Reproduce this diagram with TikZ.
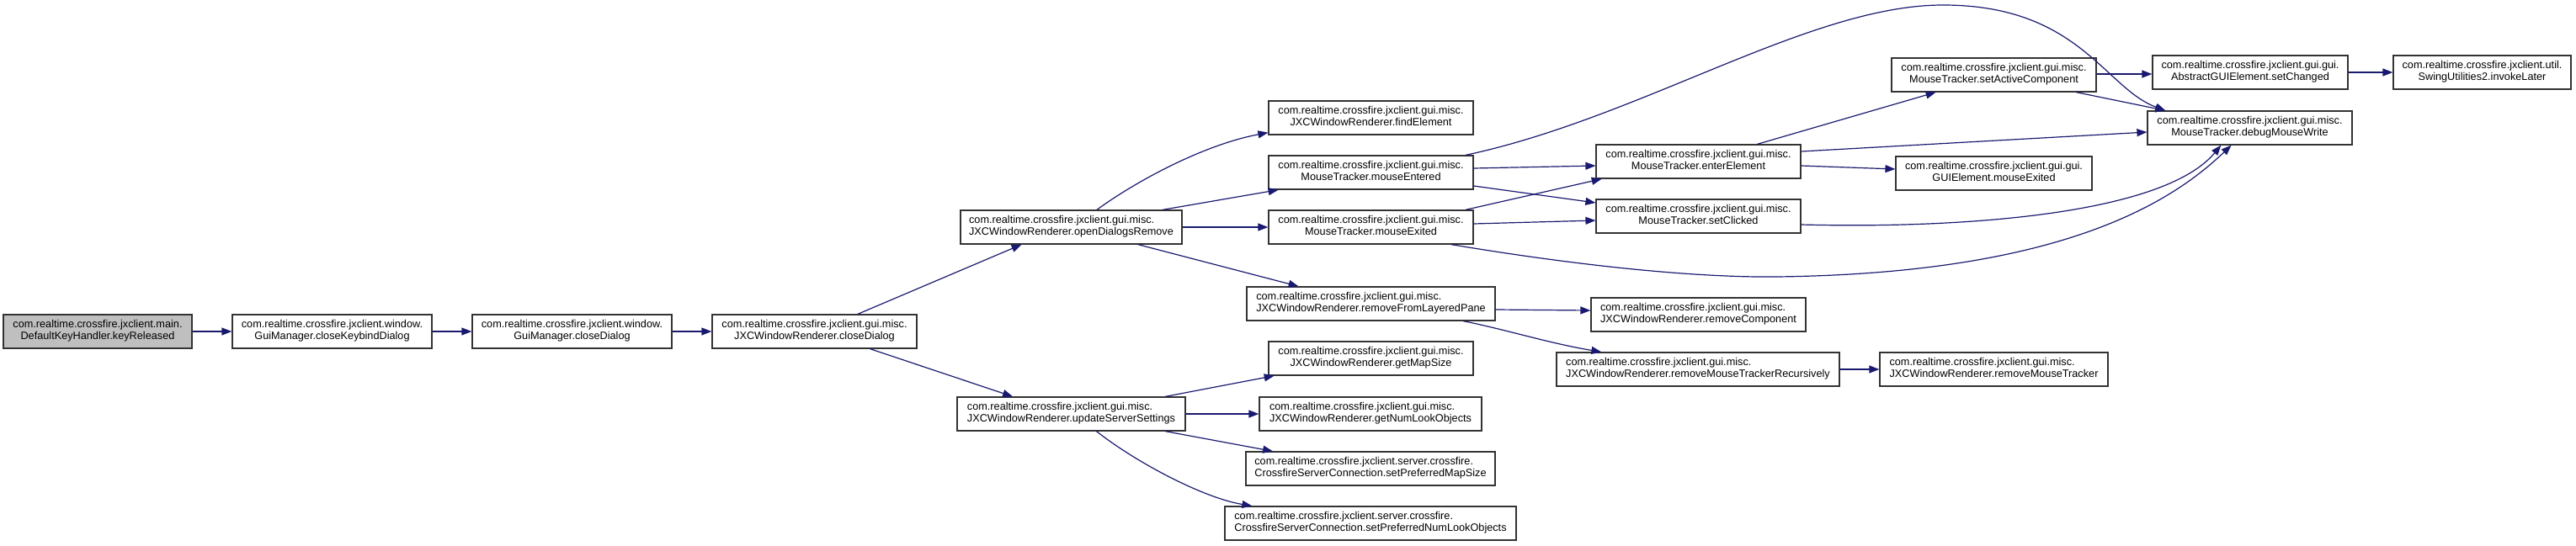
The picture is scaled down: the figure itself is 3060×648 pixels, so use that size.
\documentclass[tikz,border=0pt]{standalone}
\usepackage{fontspec}
\setmainfont{Liberation Sans}
\usetikzlibrary{arrows.meta,calc}
\definecolor{edgec}{HTML}{191970}
\definecolor{boxc}{HTML}{333333}
\definecolor{rootfill}{HTML}{BFBFBF}
\newcommand{\twol}[2]{\begin{tabular}{@{}l@{}}#1\\\multicolumn{1}{@{}c@{}}{#2}\end{tabular}}
\tikzset{
  fn/.style={draw=boxc, line width=1.2pt, fill=white, rectangle, minimum height=40, inner sep=0pt,
    font=\fontsize{12.7}{14}\selectfont},
  call/.style={draw=edgec, line width=1.2pt, -{Triangle[length=12pt,width=9pt,fill=edgec]}}
}
\begin{document}
\begin{tikzpicture}[x=1pt,y=-1pt]
\useasboundingbox (0,0) rectangle (3060,648);
% nodes
\node[fn, minimum width=224, fill=rootfill] (kr) at (116,394) {\twol{com.realtime.crossfire.jxclient.main.}{DefaultKeyHandler.keyReleased}};
\node[fn, minimum width=237] (ckd) at (394.5,394) {\twol{com.realtime.crossfire.jxclient.window.}{GuiManager.closeKeybindDialog}};
\node[fn, minimum width=237] (gcd) at (679.5,394) {\twol{com.realtime.crossfire.jxclient.window.}{GuiManager.closeDialog}};
\node[fn, minimum width=243] (jcd) at (967.5,394) {\twol{com.realtime.crossfire.jxclient.gui.misc.}{JXCWindowRenderer.closeDialog}};
\node[fn, minimum width=263] (odr) at (1272.5,270) {\twol{com.realtime.crossfire.jxclient.gui.misc.}{JXCWindowRenderer.openDialogsRemove}};
\node[fn, minimum width=271] (uss) at (1272.5,492) {\twol{com.realtime.crossfire.jxclient.gui.misc.}{JXCWindowRenderer.updateServerSettings}};
\node[fn, minimum width=243] (fe) at (1628.5,140) {\twol{com.realtime.crossfire.jxclient.gui.misc.}{JXCWindowRenderer.findElement}};
\node[fn, minimum width=243] (me) at (1628.5,205) {\twol{com.realtime.crossfire.jxclient.gui.misc.}{MouseTracker.mouseEntered}};
\node[fn, minimum width=243] (mx) at (1628.5,270) {\twol{com.realtime.crossfire.jxclient.gui.misc.}{MouseTracker.mouseExited}};
\node[fn, minimum width=295] (rflp) at (1628.5,361) {\twol{com.realtime.crossfire.jxclient.gui.misc.}{JXCWindowRenderer.removeFromLayeredPane}};
\node[fn, minimum width=243] (gms) at (1628.5,426) {\twol{com.realtime.crossfire.jxclient.gui.misc.}{JXCWindowRenderer.getMapSize}};
\node[fn, minimum width=264] (gnlo) at (1628,492) {\twol{com.realtime.crossfire.jxclient.gui.misc.}{JXCWindowRenderer.getNumLookObjects}};
\node[fn, minimum width=296] (spms) at (1628,557) {\twol{com.realtime.crossfire.jxclient.server.crossfire.}{CrossfireServerConnection.setPreferredMapSize}};
\node[fn, minimum width=346] (spnlo) at (1628,622) {\twol{com.realtime.crossfire.jxclient.server.crossfire.}{CrossfireServerConnection.setPreferredNumLookObjects}};
\node[fn, minimum width=243] (ee) at (2017.5,192) {\twol{com.realtime.crossfire.jxclient.gui.misc.}{MouseTracker.enterElement}};
\node[fn, minimum width=243] (sc) at (2017.5,257) {\twol{com.realtime.crossfire.jxclient.gui.misc.}{MouseTracker.setClicked}};
\node[fn, minimum width=255] (rc) at (2017.5,374) {\twol{com.realtime.crossfire.jxclient.gui.misc.}{JXCWindowRenderer.removeComponent}};
\node[fn, minimum width=336] (rmtr) at (2017,439) {\twol{com.realtime.crossfire.jxclient.gui.misc.}{JXCWindowRenderer.removeMouseTrackerRecursively}};
\node[fn, minimum width=243] (sac) at (2368.5,89) {\twol{com.realtime.crossfire.jxclient.gui.misc.}{MouseTracker.setActiveComponent}};
\node[fn, minimum width=233] (gme) at (2368.5,206) {\twol{com.realtime.crossfire.jxclient.gui.gui.}{GUIElement.mouseExited}};
\node[fn, minimum width=271] (rmt) at (2368.5,439) {\twol{com.realtime.crossfire.jxclient.gui.misc.}{JXCWindowRenderer.removeMouseTracker}};
\node[fn, minimum width=232] (sch) at (2673,86) {\twol{com.realtime.crossfire.jxclient.gui.gui.}{AbstractGUIElement.setChanged}};
\node[fn, minimum width=243] (dmw) at (2672.5,152) {\twol{com.realtime.crossfire.jxclient.gui.misc.}{MouseTracker.debugMouseWrite}};
\node[fn, minimum width=211] (il) at (2948.5,86) {\twol{com.realtime.crossfire.jxclient.util.}{SwingUtilities2.invokeLater}};
% edges
\draw[call] (kr.east) -- (ckd.west);
\draw[call] (ckd.east) -- (gcd.west);
\draw[call] (gcd.east) -- (jcd.west);
\draw[call] ($(jcd.north west)!0.71!(jcd.north east)$) -- ($(odr.south west)!0.277!(odr.south east)$);
\draw[call] ($(jcd.south west)!0.77!(jcd.south east)$) -- ($(uss.north west)!0.245!(uss.north east)$);
\draw[call] ($(odr.north west)!0.615!(odr.north east)$) .. controls (1350,215) and (1430,172) .. ($(fe.south west)+(0,-3)$);
\draw[call] ($(odr.north west)!0.91!(odr.north east)$) -- ($(me.south west)!0.05!(me.south east)$);
\draw[call] (odr.east) -- (mx.west);
\draw[call] ($(odr.south west)!0.80!(odr.south east)$) -- ($(rflp.north west)!0.21!(rflp.north east)$);
\draw[call] ($(uss.north west)!0.91!(uss.north east)$) -- ($(gms.south west)!0.03!(gms.south east)$);
\draw[call] (uss.east) -- (gnlo.west);
\draw[call] ($(uss.south west)!0.91!(uss.south east)$) -- ($(spms.north west)!0.11!(spms.north east)$);
\draw[call] ($(uss.south west)!0.61!(uss.south east)$) .. controls (1350,550) and (1430,592) .. ($(spnlo.north west)!0.095!(spnlo.north east)$);
% mouseEntered
\draw[call] ($(me.north west)!0.96!(me.north east)$) .. controls (1950,140) and (2150,6) .. (2308,6) .. controls (2470,6) and (2500,105) .. ($(dmw.north west)!0.09!(dmw.north east)$);
\draw[call] ($(me.east)+(0,-5)$) -- ($(ee.west)+(0,5)$);
\draw[call] ($(me.east)+(0,16)$) -- ($(sc.west)+(0,-16)$);
% mouseExited
\draw[call] ($(mx.north west)!0.96!(mx.north east)$) -- ($(ee.south west)!0.03!(ee.south east)$);
\draw[call] ($(mx.east)+(0,-4)$) -- ($(sc.west)+(0,5)$);
\draw[call] ($(mx.south west)!0.89!(mx.south east)$) .. controls (1900,320) and (2030,330) .. (2110,329) .. controls (2450,325) and (2580,240) .. ($(dmw.south west)!0.41!(dmw.south east)$);
% enterElement
\draw[call] ($(ee.north west)!0.786!(ee.north east)$) -- ($(sac.south west)!0.218!(sac.south east)$);
\draw[call] ($(ee.east)+(0,-12)$) -- ($(dmw.west)+(0,5)$);
\draw[call] ($(ee.east)+(0,5)$) -- ($(gme.west)+(0,-5)$);
% setClicked
\draw[call] ($(sc.east)+(0,10)$) .. controls (2330,272) and (2570,255) .. ($(dmw.south west)!0.36!(dmw.south east)$);
% setActiveComponent
\draw[call] ($(sac.east)+(0,-1)$) -- ($(sch.west)+(0,2)$);
\draw[call] ($(sac.south west)!0.90!(sac.south east)$) -- ($(dmw.north west)!0.09!(dmw.north east)$);
\draw[call] (sch.east) -- (il.west);
% removeFromLayeredPane
\draw[call] ($(rflp.east)+(0,7)$) -- ($(rc.west)+(0,-5)$);
\draw[call] ($(rflp.south west)!0.87!(rflp.south east)$) .. controls (1790,392) and (1840,408) .. ($(rmtr.north west)!0.16!(rmtr.north east)$);
\draw[call] (rmtr.east) -- (rmt.west);
\end{tikzpicture}
\end{document}
